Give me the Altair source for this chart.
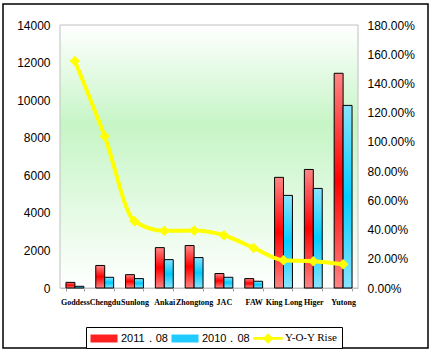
import altair as alt
import pandas as pd

cats = ["Goddess", "Chengdu", "Sunlong", "Ankai", "Zhongtong", "JAC", "FAW", "King Long", "Higer", "Yutong"]
s2011 = [300, 1200, 710, 2150, 2260, 770, 500, 5890, 6310, 11430]
s2010 = [90, 570, 500, 1510, 1620, 570, 360, 4930, 5300, 9720]
yoy = [1.553, 1.039, 0.457, 0.391, 0.393, 0.361, 0.274, 0.190, 0.183, 0.162]
series_names = ["2011．08", "2010．08", "Y-O-Y Rise"]
series_colors = ["#ff2020", "#20ccff", "#ffff00"]

W, H = 298, 263

bars_df = pd.DataFrame({
    "cat": cats * 2,
    "series": [series_names[0]] * len(cats) + [series_names[1]] * len(cats),
    "value": s2011 + s2010,
})
line_df = pd.DataFrame({"cat": cats, "yoy": yoy})
one = pd.DataFrame({"a": [0]})
legend_df = pd.DataFrame({"series": series_names})

xenc = alt.X("cat:N", sort=cats, title=None,
             scale=alt.Scale(paddingInner=0.4, paddingOuter=0.2),
             axis=alt.Axis(labelAngle=0, labelFont="Liberation Serif", labelFontWeight="bold",
                           labelFontSize=8, labelColor="black", tickBand="extent", tickSize=3,
                           tickColor="#a0a0a0", domainColor="#c0c0c0", labelPadding=7,
                           labelOverlap=False, labelLimit=0))

def grad(c_edge, c_mid):
    return alt.LinearGradient(gradient="linear", x1=0, x2=0, y1=0, y2=1,
                              stops=[alt.GradientStop(offset=0, color=c_edge),
                                     alt.GradientStop(offset=0.5, color=c_mid),
                                     alt.GradientStop(offset=1, color=c_edge)])

bg = alt.Chart(one).mark_rect(
    fill=alt.LinearGradient(gradient="linear", x1=0, x2=0, y1=0, y2=1,
                            stops=[alt.GradientStop(offset=0, color="#ffffff"),
                                   alt.GradientStop(offset=0.38, color="#c6f5c6"),
                                   alt.GradientStop(offset=1, color="#ffffff")]),
    stroke="#c0c0c0", strokeWidth=1
).encode(x=alt.value(0), x2=alt.value(W), y=alt.value(0), y2=alt.value(H))

frame = alt.Chart(one).mark_rect(fillOpacity=0, stroke="black", strokeWidth=1.5).encode(
    x=alt.value(-57), x2=alt.value(368), y=alt.value(-21), y2=alt.value(323))

yleft = alt.Y("value:Q", title=None,
              scale=alt.Scale(domain=[0, 14000]),
              axis=alt.Axis(values=list(range(0, 14001, 2000)), format="d", grid=False, ticks=False,
                            domain=False, labelFont="Liberation Sans", labelFontSize=12,
                            labelColor="black", labelPadding=10))

xoff = alt.XOffset("series:N", scale=alt.Scale(domain=series_names[:2]))

red = alt.Chart(bars_df).transform_filter(
    alt.datum.series == series_names[0]
).mark_bar(fill=grad("#ff8585", "#ff0000"), stroke="black", strokeWidth=1).encode(
    x=xenc, xOffset=xoff, y=yleft)
blue = alt.Chart(bars_df).transform_filter(
    alt.datum.series == series_names[1]
).mark_bar(fill=grad("#8ae4ff", "#00ccff"), stroke="black", strokeWidth=1).encode(
    x=xenc, xOffset=xoff, y=yleft)

yright = alt.Y("yoy:Q", title=None,
               scale=alt.Scale(domain=[0, 1.8]),
               axis=alt.Axis(orient="right", format=".2%", values=[i / 10 for i in range(0, 19, 2)],
                             grid=False, ticks=False, domain=False, labelFont="Liberation Sans",
                             labelFontSize=12, labelColor="black", labelPadding=9))

line = alt.Chart(line_df).mark_line(color="#ffff00", strokeWidth=4, interpolate="monotone").encode(
    x=xenc, y=yright)
pts = alt.Chart(line_df).mark_point(shape="diamond", filled=True, size=110, color="#ffff00", opacity=1).encode(
    x=xenc, y=yright)

rect_path = "M-1.93,-0.57H1.93V0.57H-1.93Z"
line_path = "M-2.1,-0.2H2.1V0.2H-2.1Z M0,-0.75L0.75,0L0,0.75L-0.75,0Z"

leg = alt.Chart(legend_df).transform_filter("false").mark_point(filled=True, opacity=1).encode(
    color=alt.Color("series:N", scale=alt.Scale(domain=series_names, range=series_colors),
                    legend=alt.Legend(title=None, orient="none", legendX=26, legendY=302,
                                      direction="horizontal", columns=3,
                                      symbolSize=196, symbolOffset=7, labelOffset=10,
                                      symbolStrokeWidth=0, symbolOpacity=1,
                                      labelFont={"expr": "datum.label == 'Y-O-Y Rise' ? 'Liberation Serif' : 'Liberation Sans'"},
                                      labelFontSize=11, labelColor="black",
                                      columnPadding=3, padding=4,
                                      strokeColor="black", fillColor="white")),
    shape=alt.Shape("series:N", scale=alt.Scale(domain=series_names, range=[rect_path, rect_path, line_path]))
)

left = alt.layer(bg, red, blue)
right = alt.layer(line, pts)

chart = alt.layer(frame, left, right, leg).resolve_scale(y="independent").properties(
    width=W, height=H,
    autosize=alt.AutoSizeParams(type="none"),
    padding={"left": 60, "top": 25, "right": 74, "bottom": 65},
    background="white"
).configure_view(stroke=None)

chart.save("out.html", embed_options={"renderer": "svg", "actions": False})
